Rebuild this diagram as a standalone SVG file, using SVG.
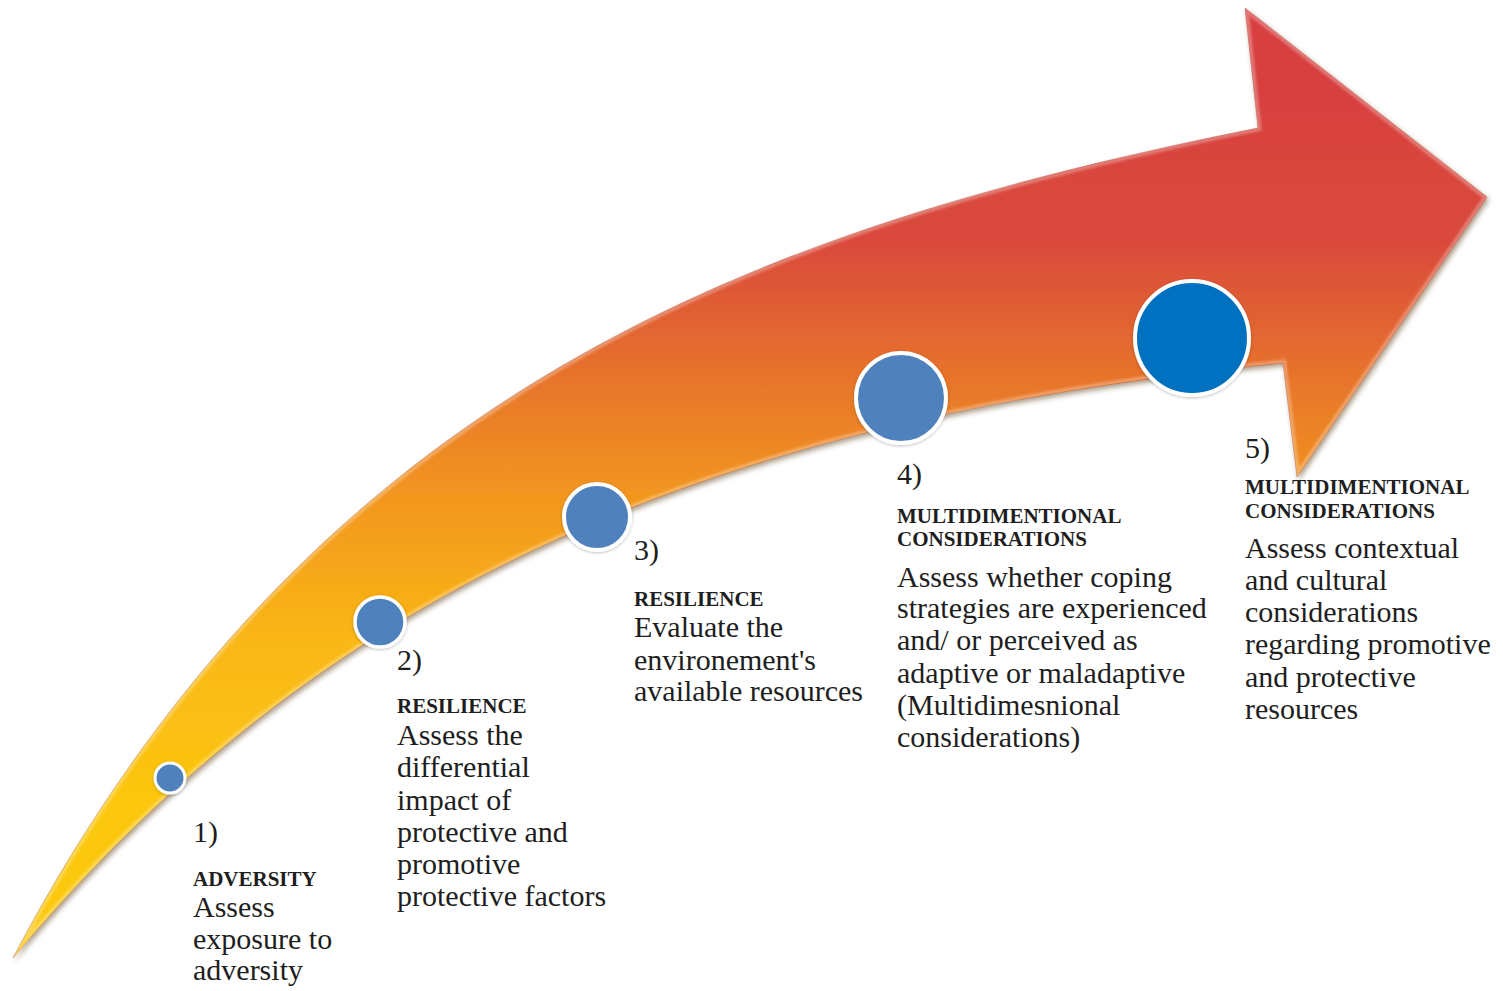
<svg xmlns="http://www.w3.org/2000/svg" width="1503" height="991" viewBox="0 0 1503 991">
  <style>
    .num { font-family: "Liberation Serif", "Times New Roman", serif; font-size: 30px; fill: #1e1e1e; }
    .head { font-family: "Liberation Serif", "Times New Roman", serif; font-size: 21px; font-weight: bold; fill: #1e1e1e; }
    .body { font-family: "Liberation Serif", "Times New Roman", serif; font-size: 30px; fill: #1e1e1e; }
    .dot { fill: #4f81bd; stroke: #ffffff; filter: url(#dotShadow); }
    .dot.big { fill: #0070c0; }
  </style>
  <defs>
    <path id="arrowShape" d="M13,958 C313,388 758,228 1258,128 L1245,8 L1487,197 L1297,477 L1283,363 C733,418 333,574 13,958 Z"/>
    <clipPath id="arrowClip">
      <use href="#arrowShape"/>
    </clipPath>
    <linearGradient id="warm" gradientUnits="userSpaceOnUse" x1="0" y1="100" x2="0" y2="820">
      <stop offset="0" stop-color="#d8413f"/>
      <stop offset="0.2" stop-color="#da4a3b"/>
      <stop offset="0.4" stop-color="#e8772a"/>
      <stop offset="0.55" stop-color="#f2961f"/>
      <stop offset="0.75" stop-color="#fab715"/>
      <stop offset="1" stop-color="#fcc80f"/>
    </linearGradient>
    <filter id="arrowShadow" x="-5%" y="-5%" width="110%" height="110%">
      <feDropShadow dx="2" dy="3" stdDeviation="2.5" flood-color="#4a2a00" flood-opacity="0.45"/>
    </filter>
    <filter id="soften" x="-5%" y="-5%" width="110%" height="110%">
      <feGaussianBlur stdDeviation="1.2"/>
    </filter>
    <filter id="dotShadow" x="-30%" y="-30%" width="160%" height="160%">
      <feDropShadow dx="0" dy="1" stdDeviation="1.5" flood-color="#000000" flood-opacity="0.25"/>
    </filter>
  </defs>

  <!-- curved progress arrow with a soft bevel along its rim -->
  <g id="progress-arrow">
    <use href="#arrowShape" fill="url(#warm)" stroke="#9a3a1c" stroke-opacity="0.35" stroke-width="1" filter="url(#arrowShadow)"/>
    <g clip-path="url(#arrowClip)">
      <use href="#arrowShape" fill="none" stroke="#ffffff" stroke-opacity="0.28" stroke-width="7" filter="url(#soften)"/>
    </g>
  </g>

  <g id="connectors"></g>

  <!-- step 1 -->
  <g id="step1">
    <circle class="dot" cx="170" cy="778" r="15" stroke-width="3"/>
    <text class="num" x="193" y="842">1)</text>
    <text class="head" x="193" y="886">ADVERSITY</text>
    <text class="body" x="193" y="917">Assess</text>
    <text class="body" x="193" y="949">exposure to</text>
    <text class="body" x="193" y="980">adversity</text>
  </g>

  <!-- step 2 -->
  <g id="step2">
    <circle class="dot" cx="380" cy="622" r="25" stroke-width="3.5"/>
    <text class="num" x="397" y="670">2)</text>
    <text class="head" x="397" y="713">RESILIENCE</text>
    <text class="body" x="397" y="745">Assess the</text>
    <text class="body" x="397" y="777">differential</text>
    <text class="body" x="397" y="810">impact of</text>
    <text class="body" x="397" y="842">protective and</text>
    <text class="body" x="397" y="874">promotive</text>
    <text class="body" x="397" y="906">protective factors</text>
  </g>

  <!-- step 3 -->
  <g id="step3">
    <circle class="dot" cx="597" cy="517" r="33" stroke-width="4"/>
    <text class="num" x="634" y="560">3)</text>
    <text class="head" x="634" y="606">RESILIENCE</text>
    <text class="body" x="634" y="637">Evaluate the</text>
    <text class="body" x="634" y="670">environement's</text>
    <text class="body" x="634" y="701">available resources</text>
  </g>

  <!-- step 4 -->
  <g id="step4">
    <circle class="dot" cx="901" cy="398" r="45" stroke-width="4"/>
    <text class="num" x="897" y="484">4)</text>
    <text class="head" x="897" y="523">MULTIDIMENTIONAL</text>
    <text class="head" x="897" y="546">CONSIDERATIONS</text>
    <text class="body" x="897" y="587">Assess whether coping</text>
    <text class="body" x="897" y="618">strategies are experienced</text>
    <text class="body" x="897" y="650">and/ or perceived as</text>
    <text class="body" x="897" y="683">adaptive or maladaptive</text>
    <text class="body" x="897" y="715">(Multidimesnional</text>
    <text class="body" x="897" y="747">considerations)</text>
  </g>

  <!-- step 5 -->
  <g id="step5">
    <circle class="dot big" cx="1192" cy="338" r="57" stroke-width="4"/>
    <text class="num" x="1245" y="458">5)</text>
    <text class="head" x="1245" y="494">MULTIDIMENTIONAL</text>
    <text class="head" x="1245" y="518">CONSIDERATIONS</text>
    <text class="body" x="1245" y="558">Assess contextual</text>
    <text class="body" x="1245" y="590">and cultural</text>
    <text class="body" x="1245" y="622">considerations</text>
    <text class="body" x="1245" y="654">regarding promotive</text>
    <text class="body" x="1245" y="687">and protective</text>
    <text class="body" x="1245" y="719">resources</text>
  </g>
</svg>
